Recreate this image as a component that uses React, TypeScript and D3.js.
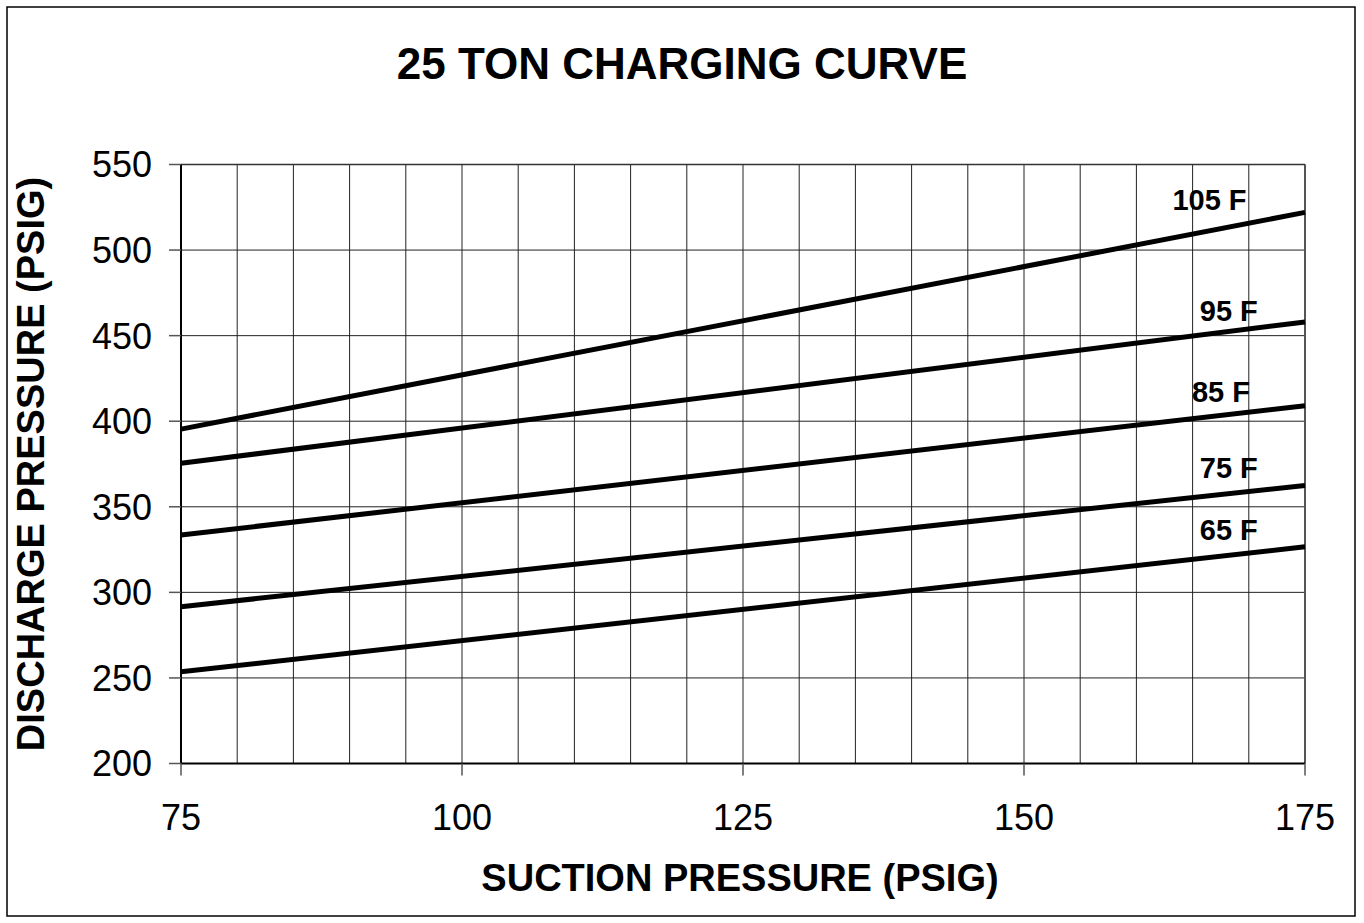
import React from "react";
import * as d3 from "d3";

const xTicks = [75, 100, 125, 150, 175];
const yTicks = [200, 250, 300, 350, 400, 450, 500, 550];
const xGrid = d3.range(75, 176, 5);

const suction = [75, 175];
const d105 = [395.4, 522];
const d95 = [375.4, 458];
const d85 = [333.5, 409];
const d75 = [291.6, 362.5];
const d65 = [253.6, 326.6];

const seriesNames = ["105 F", "95 F", "85 F", "75 F", "65 F"];
const seriesValues = [d105, d95, d85, d75, d65];
// label anchor (end of text) in data units
const labelX = [169.8, 170.8, 170.1, 170.8, 170.8];
const labelY = [523.4, 458.5, 411.4, 366.8, 330.6];

const W = 1364;
const H = 923;
const left = 181;
const right = 1305;
const top = 164.5;
const bottom = 763.5;
const FONT = "'Liberation Sans', Arial, Helvetica, sans-serif";

export default function App() {
  const x = d3.scaleLinear().domain([75, 175]).range([left, right]);
  const y = d3.scaleLinear().domain([200, 550]).range([bottom, top]);
  const line = d3
    .line<[number, number]>()
    .x((d) => x(d[0]))
    .y((d) => y(d[1]));

  return (
    <svg
      width={W}
      height={H}
      style={{ position: "absolute", left: 0, top: 0, background: "#fff" }}
      fontFamily={FONT}
    >
      <rect x={7} y={7} width={1348} height={909} fill="#fff" stroke="#000" strokeWidth={1.5} />
      <text x={682} y={79} textAnchor="middle" fontSize={44} fontWeight="bold">
        25 TON CHARGING CURVE
      </text>

      {/* grid */}
      {xGrid.map((v) => (
        <line key={"gx" + v} x1={x(v)} x2={x(v)} y1={top} y2={bottom} stroke="#222" strokeWidth={1} />
      ))}
      {yTicks.map((v) => (
        <line key={"gy" + v} x1={left} x2={right} y1={y(v)} y2={y(v)} stroke="#222" strokeWidth={1} />
      ))}
      <line x1={right} x2={right} y1={top} y2={bottom} stroke="#555" strokeWidth={2} />
      <line x1={left} x2={right} y1={top} y2={top} stroke="#333" strokeWidth={1.5} />

      {/* axes */}
      <line x1={left} x2={left} y1={top} y2={bottom} stroke="#000" strokeWidth={2} />
      <line x1={left} x2={right} y1={bottom} y2={bottom} stroke="#000" strokeWidth={2} />
      {yTicks.map((v) => (
        <g key={"yt" + v}>
          <line x1={left - 12} x2={left} y1={y(v)} y2={y(v)} stroke="#555" strokeWidth={1.5} />
          <text x={152} y={y(v)} dy="0.36em" textAnchor="end" fontSize={36}>
            {v}
          </text>
        </g>
      ))}
      {xTicks.map((v) => (
        <g key={"xt" + v}>
          <line x1={x(v)} x2={x(v)} y1={bottom} y2={bottom + 12} stroke="#555" strokeWidth={1.5} />
          <text x={x(v)} y={830} textAnchor="middle" fontSize={36}>
            {v}
          </text>
        </g>
      ))}

      {/* series */}
      {seriesValues.map((vals, i) => (
        <path
          key={seriesNames[i]}
          d={line(suction.map((s, j) => [s, vals[j]]) as [number, number][]) || ""}
          fill="none"
          stroke="#000"
          strokeWidth={5}
        />
      ))}
      {seriesNames.map((n, i) => (
        <text key={"l" + n} x={x(labelX[i])} y={y(labelY[i])} textAnchor="end" fontSize={29} fontWeight="bold">
          {n}
        </text>
      ))}

      <text x={740} y={891} textAnchor="middle" fontSize={38} fontWeight="bold">
        SUCTION PRESSURE (PSIG)
      </text>
      <text
        transform={`translate(44, ${(top + bottom) / 2}) rotate(-90)`}
        textAnchor="middle"
        fontSize={38}
        fontWeight="bold"
      >
        DISCHARGE PRESSURE (PSIG)
      </text>
    </svg>
  );
}
